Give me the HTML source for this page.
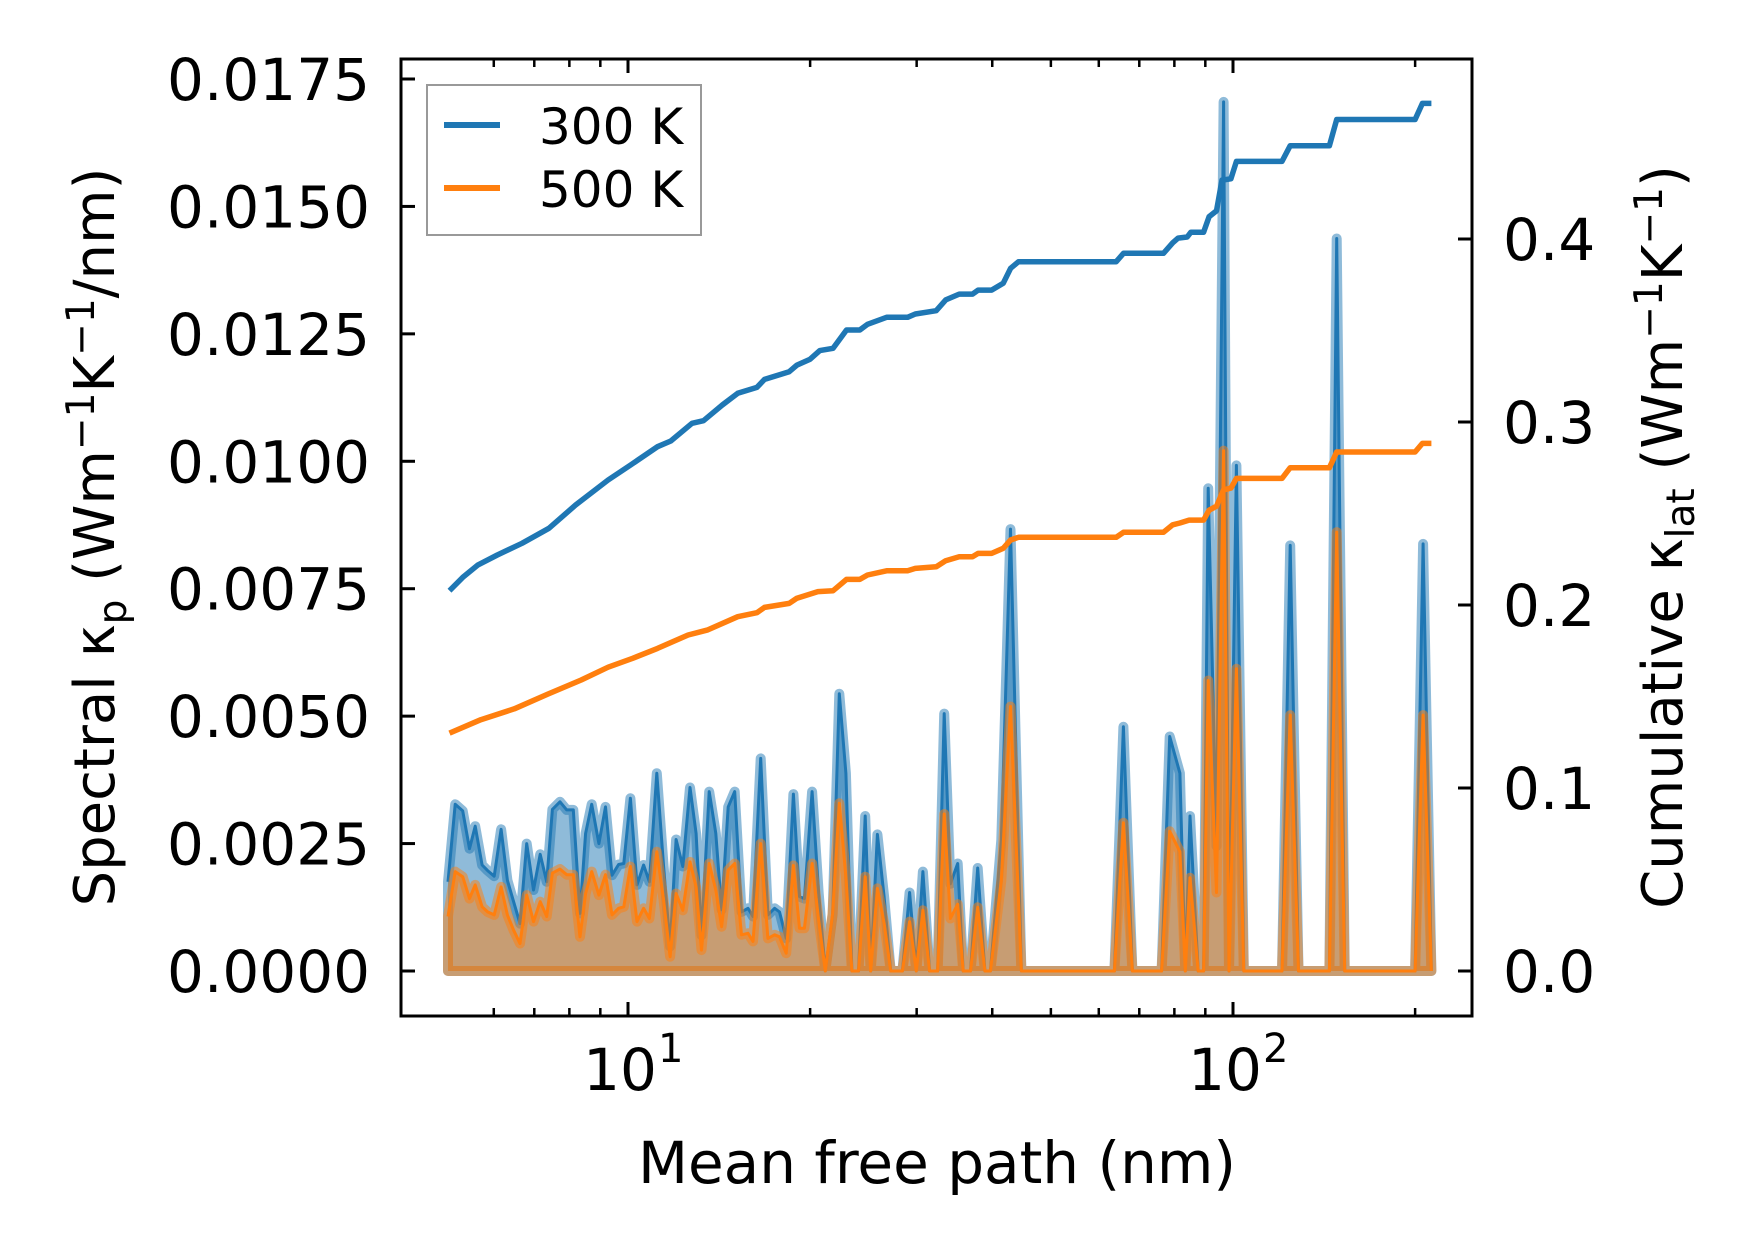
<!DOCTYPE html>
<html><head><meta charset="utf-8"><style>
html,body{margin:0;padding:0;background:#fff}
svg{display:block}
text{font-family:"DejaVu Sans","Liberation Sans",sans-serif;fill:#000}
</style></head><body>
<svg id="chart" width="1753" height="1254" viewBox="0 0 1753 1254" xmlns="http://www.w3.org/2000/svg">
<rect x="0" y="0" width="1753" height="1254" fill="#fff"/>
<g id="plot"></g>
<g id="axes"></g>
</svg>
<script>
// ---- data ----
const spectralMfp = [5.04,5.18,5.33,5.47,5.59,5.74,5.86,6.01,6.17,6.32,6.47,6.63,6.80,6.98,7.16,7.34,7.50,7.72,7.92,8.12,8.33,8.51,8.71,8.95,9.18,9.41,9.65,9.84,10.09,10.35,10.61,10.85,11.16,11.45,11.74,12.01,12.32,12.66,12.96,13.23,13.62,13.97,14.28,14.64,15.01,15.40,15.79,16.09,16.57,17.03,17.47,17.80,18.26,18.77,19.21,19.57,20.15,20.66,21.19,21.79,22.35,22.92,23.45,24.04,24.66,25.19,25.84,26.50,27.18,28.41,29.21,29.96,30.72,31.51,32.49,33.31,34.11,35.07,35.81,36.82,37.84,38.90,39.72,41.41,42.87,44.70,63.68,65.9,68.2,76.2,78.6,81.7,83.4,84.9,87.6,89.4,91.0,93.9,96.5,98.5,101.3,104.2,120.5,124.3,128.3,144.3,148.4,153.0,200.0,206.2,212.8];
const spectral300 = [0.00175,0.00327,0.00314,0.0024,0.00284,0.00208,0.00197,0.00186,0.00278,0.00178,0.00136,0.00093,0.0025,0.00159,0.00229,0.00175,0.00317,0.00332,0.00316,0.00316,0.00113,0.0027,0.00327,0.0025,0.00322,0.00188,0.00209,0.00211,0.00339,0.00169,0.00208,0.00175,0.00388,0.00205,0.00048,0.00258,0.00205,0.0036,0.0027,0.0007,0.00352,0.0027,0.0012,0.00322,0.00352,0.00116,0.00123,0.00107,0.00417,0.0011,0.00123,0.00116,0.00064,0.00347,0.00146,0.00142,0.00352,0.00152,0,0.0011,0.00544,0.00388,0,0,0.00304,0,0.00268,0.00146,0,0,0.00154,0,0.00195,0,0,0.00505,0.00171,0.00211,0,0,0.00202,0,0,0.00257,0.00867,0,0,0.00479,0,0,0.0046,0.00388,0,0.00304,0,0,0.00947,0.00245,0.01705,0,0.00992,0,0,0.00835,0,0,0.01437,0,0,0.00838,0];
const spectral500 = [0.00107,0.00195,0.00185,0.00142,0.00169,0.00126,0.00116,0.0011,0.00165,0.0011,0.0008,0.00054,0.00149,0.00097,0.00136,0.00107,0.00192,0.002,0.00189,0.00189,0.00067,0.00152,0.00195,0.00149,0.00189,0.0011,0.00123,0.00126,0.00205,0.00097,0.00123,0.00103,0.00234,0.00139,0.00028,0.00152,0.00119,0.00214,0.00165,0.00041,0.00211,0.00159,0.00087,0.00198,0.00211,0.00071,0.00074,0.00058,0.0025,0.00064,0.00071,0.00067,0.00035,0.00207,0.00084,0.00084,0.00211,0.00099,0,0.00113,0.00329,0.00185,0,0,0.00185,0,0.00162,0.00094,0,0,0.00097,0,0.00119,0,0,0.00308,0.00103,0.00131,0,0,0.00125,0,0,0.00177,0.00519,0,0,0.00291,0,0,0.00274,0.00234,0,0.00183,0,0,0.0057,0.00154,0.01021,0,0.00593,0,0,0.00502,0,0,0.00861,0,0,0.00502,0];
const cum300Mfp = [5.07,5.33,5.65,6.08,6.68,7.40,8.19,9.27,10.1,11.19,11.77,12.76,13.33,14.32,15.18,16.33,16.81,18.47,19.02,20.0,20.75,21.83,22.97,24.16,24.88,26.76,28.98,29.84,32.32,33.5,35.27,37.1,37.9,39.9,41.7,42.9,44.2,64.12,65.92,76.77,79.48,81.15,84.0,85.2,89.4,91.3,93.9,95.9,99.2,101.3,120.5,124.3,144.3,148.4,200.0,205.6,212.8];
const cum300 = [0.2078,0.2151,0.2219,0.2273,0.2337,0.2419,0.2546,0.2683,0.2765,0.2865,0.2896,0.2993,0.3007,0.3093,0.3157,0.3189,0.3233,0.3275,0.3311,0.3343,0.3390,0.3403,0.3503,0.3503,0.3534,0.3572,0.3572,0.3590,0.3608,0.3667,0.3699,0.3699,0.3721,0.3721,0.3758,0.3840,0.3876,0.3876,0.3922,0.3922,0.3979,0.4005,0.4011,0.4037,0.4037,0.4122,0.4154,0.4322,0.4329,0.4424,0.4424,0.4510,0.4510,0.4653,0.4653,0.4741,0.4741];
const cum500Mfp = [5.07,5.71,6.49,7.37,8.37,9.27,10.18,11.19,12.57,13.52,15.18,16.33,16.81,18.47,19.02,20.6,21.83,22.97,24.16,24.88,26.76,28.98,29.84,32.32,33.5,35.27,37.1,37.9,39.9,41.7,42.9,44.2,64.12,65.92,76.77,79.48,81.7,84.6,89.4,91.3,93.9,96.5,99.2,101.3,120.5,124.3,144.3,148.4,200.0,205.6,212.8];
const cum500 = [0.1300,0.1373,0.1433,0.1513,0.1590,0.1660,0.1709,0.1763,0.1836,0.1863,0.1936,0.1958,0.1987,0.2009,0.2037,0.2073,0.2078,0.2140,0.2140,0.2164,0.2187,0.2187,0.2200,0.2209,0.2242,0.2264,0.2264,0.2282,0.2282,0.2310,0.2355,0.2370,0.2370,0.2397,0.2397,0.2438,0.2448,0.2464,0.2464,0.2518,0.2540,0.2629,0.2639,0.2692,0.2692,0.2750,0.2750,0.2836,0.2836,0.2883,0.2883];
const leftTicks = [0,0.0025,0.005,0.0075,0.01,0.0125,0.015,0.0175];
const leftTickLabels = ["0.0000","0.0025","0.0050","0.0075","0.0100","0.0125","0.0150","0.0175"];
const rightTicks = [0,0.1,0.2,0.3,0.4];
const rightTickLabels = ["0.0","0.1","0.2","0.3","0.4"];
const xMajor = [10,100];
const xMajorExp = ["1","2"];
const xMinor = [6,7,8,9,20,30,40,50,60,70,80,90,200];

// ---- scales ----
const L=401,R=1472,T=59,B=1016;
const X = v => 628 + 605*(Math.log10(v)-1);
const YL = v => 971 - v*892/0.0175;
const YR = v => 971 - v*1830;
const NS="http://www.w3.org/2000/svg";
const plot=document.getElementById('plot'), axes=document.getElementById('axes');
function mk(tag, attrs, parent){const e=document.createElementNS(NS,tag);for(const k in attrs)e.setAttribute(k,attrs[k]);parent.appendChild(e);return e;}

function spectral(vals, color, fill, name){
  let pts = spectralMfp.map((m,i)=>X(m).toFixed(1)+','+YL(vals[i]).toFixed(1));
  const area = 'M'+X(spectralMfp[0]).toFixed(1)+','+YL(0)+' L'+pts.join(' L')+' L'+X(spectralMfp[spectralMfp.length-1]).toFixed(1)+','+YL(0)+' Z';
  const a=mk('path',{d:area,fill:fill,stroke:fill,'stroke-width':10,'stroke-linejoin':'round'},plot);
  
  
  const l=mk('polyline',{points:pts.join(' '),fill:'none',stroke:color,'stroke-width':3,'stroke-linejoin':'round'},plot);
  
  
}
spectral(spectral300,'#1f77b4','rgba(31,119,180,0.5)','spectral-300k');
spectral(spectral500,'#ff7f0e','rgba(255,127,14,0.5)','spectral-500k');

function cum(m, vals, color, name){
  const pts=m.map((v,i)=>X(v).toFixed(1)+','+YR(vals[i]).toFixed(1)).join(' ');
  const l=mk('polyline',{points:pts,fill:'none',stroke:color,'stroke-width':5.5,'stroke-linejoin':'round'},plot);
  
  
}
cum(cum300Mfp,cum300,'#1f77b4','cumulative-300k');
cum(cum500Mfp,cum500,'#ff7f0e','cumulative-500k');

// ---- axes ----
const frame=mk('rect',{x:L,y:T,width:R-L,height:B-T,fill:'none',stroke:'#000','stroke-width':3},axes);


leftTicks.forEach((v,i)=>{
  const y=YL(v);
  const t=mk('line',{x1:L,x2:L+14,y1:y,y2:y,stroke:'#000','stroke-width':3},axes);
  
  
  const tx=mk('text',{x:L-31,y:y+21,'text-anchor':'end','font-size':58},axes);
  tx.textContent=leftTickLabels[i];
  
  
});
rightTicks.forEach((v,i)=>{
  const y=YR(v);
  const t=mk('line',{x1:R-14,x2:R,y1:y,y2:y,stroke:'#000','stroke-width':3},axes);
  
  
  const tx=mk('text',{x:R+31,y:y+21,'text-anchor':'start','font-size':58},axes);
  tx.textContent=rightTickLabels[i];
  
  
});
xMajor.forEach((v,i)=>{
  const x=X(v);
  [[B-14,B],[T,T+14]].forEach(p=>{
    const t=mk('line',{x1:x,x2:x,y1:p[0],y2:p[1],stroke:'#000','stroke-width':3},axes);
    
    
  });
  const tx=mk('text',{x:x-8,y:1090,'text-anchor':'middle','font-size':58},axes);
  tx.textContent='10';
  
  
  const sp=mk('text',{x:x+30,y:1062,'text-anchor':'start','font-size':40},axes);
  sp.textContent=xMajorExp[i];
  
  
});
xMinor.forEach(v=>{
  const x=X(v);
  [[B-8,B],[T,T+8]].forEach(p=>{
    const t=mk('line',{x1:x,x2:x,y1:p[0],y2:p[1],stroke:'#000','stroke-width':2.5},axes);
    
    
  });
});
</script>
<div style="position:absolute;left:0;top:0;width:1753px;height:1254px;pointer-events:none">
<svg width="1753" height="1254" xmlns="http://www.w3.org/2000/svg">
<text x="937" y="1183" text-anchor="middle" font-size="58" style="font-family:'DejaVu Sans','Liberation Sans',sans-serif">Mean free path (nm)</text>
<text transform="translate(114,537) rotate(-90)" text-anchor="middle" font-size="56" style="font-family:'DejaVu Sans','Liberation Sans',sans-serif">Spectral κ<tspan font-size="39" dy="12">p</tspan><tspan dy="-12"> (Wm</tspan><tspan font-size="39" dy="-20">−1</tspan><tspan dy="20">K</tspan><tspan font-size="39" dy="-20">−1</tspan><tspan dy="20">/nm)</tspan></text>
<text transform="translate(1682,537) rotate(-90)" text-anchor="middle" font-size="56" style="font-family:'DejaVu Sans','Liberation Sans',sans-serif">Cumulative κ<tspan font-size="39" dy="12">lat</tspan><tspan dy="-12"> (Wm</tspan><tspan font-size="39" dy="-20">−1</tspan><tspan dy="20">K</tspan><tspan font-size="39" dy="-20">−1</tspan><tspan dy="20">)</tspan></text>
<g>
<rect x="427" y="85" width="274" height="150" fill="#fff" fill-opacity="0.8" stroke="#999" stroke-width="2"/>
<line x1="444" y1="125" x2="500" y2="125" stroke="#1f77b4" stroke-width="6"/>
<text x="539" y="144" font-size="50" style="font-family:'DejaVu Sans','Liberation Sans',sans-serif">300 K</text>
<line x1="444" y1="188" x2="500" y2="188" stroke="#ff7f0e" stroke-width="6"/>
<text x="539" y="207" font-size="50" style="font-family:'DejaVu Sans','Liberation Sans',sans-serif">500 K</text>
</g>
</svg>
</div>
</body></html>
